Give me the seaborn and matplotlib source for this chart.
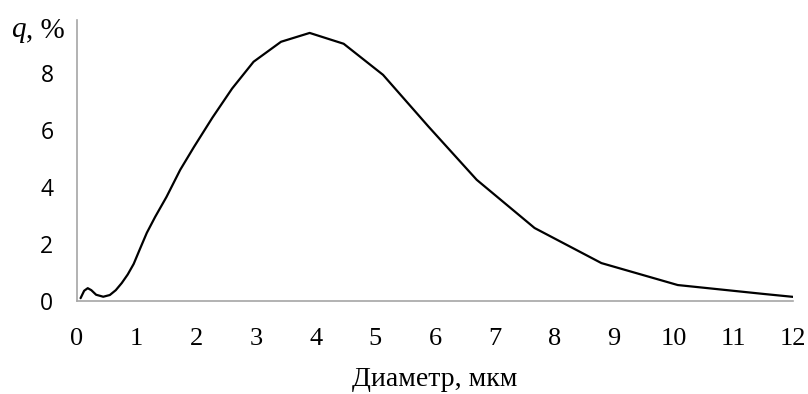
import matplotlib
matplotlib.use("Agg")
import matplotlib.pyplot as plt
import seaborn as sns
import pandas as pd

# particle size distribution
diameter = [0.06, 0.12, 0.18, 0.24, 0.32, 0.44, 0.55, 0.65, 0.75, 0.85, 0.95,
            1.05, 1.17, 1.31, 1.50, 1.73, 1.96, 2.27, 2.60, 2.96, 3.42, 3.90,
            4.47, 5.13, 5.89, 6.70, 7.67, 8.79, 10.07, 11.50, 12.03]
share = [0.10, 0.36, 0.45, 0.38, 0.22, 0.15, 0.21, 0.38, 0.63, 0.93, 1.30,
         1.80, 2.39, 2.95, 3.65, 4.60, 5.40, 6.43, 7.45, 8.39, 9.09, 9.40,
         9.02, 7.93, 6.12, 4.25, 2.56, 1.33, 0.56, 0.25, 0.14]
x_ticks = list(range(0, 13))
y_ticks = [0, 2, 4, 6, 8]

df = pd.DataFrame({"d": diameter, "q": share})

sns.set_style("white", {"text.color": "black", "xtick.color": "black",
                        "ytick.color": "black", "axes.labelcolor": "black"})
serif = ["Liberation Serif", "DejaVu Serif"]
sans = ["Open Sans", "DejaVu Sans"]

fig = plt.figure(figsize=(8.08, 3.94), dpi=100)
ax = fig.add_axes([0.0953, 0.236, 0.886, 0.713])

sns.lineplot(data=df, x="d", y="q", sort=False, color="black", linewidth=1.6, ax=ax)

ax.set_xlim(0, 12)
ax.set_ylim(0, 9.85)
ax.set_xticks(x_ticks)
ax.set_yticks(y_ticks)
ax.set_xticklabels([str(t) for t in x_ticks], family=serif, fontsize=19)
ax.set_yticklabels([str(t) for t in y_ticks], family=sans, fontsize=16.5)
ax.tick_params(axis="x", length=0, pad=19.5)
ax.tick_params(axis="y", length=0, pad=17)

for side in ["top", "right"]:
    ax.spines[side].set_visible(False)
for side in ["left", "bottom"]:
    ax.spines[side].set_color("#a6a6a6")
    ax.spines[side].set_linewidth(1.2)

ax.set_xlabel("Диаметр, мкм", family=serif, fontsize=20, labelpad=12)
ax.set_ylabel("")

# "q, %" label at the top of the y axis
fig.text(11 / 808, 1 - 37 / 394, "q", family=serif, style="italic", fontsize=21,
         va="baseline", ha="left")
fig.text(26 / 808, 1 - 37 / 394, ", %", family=serif, fontsize=21,
         va="baseline", ha="left")

fig.savefig("out.png", dpi=100)
